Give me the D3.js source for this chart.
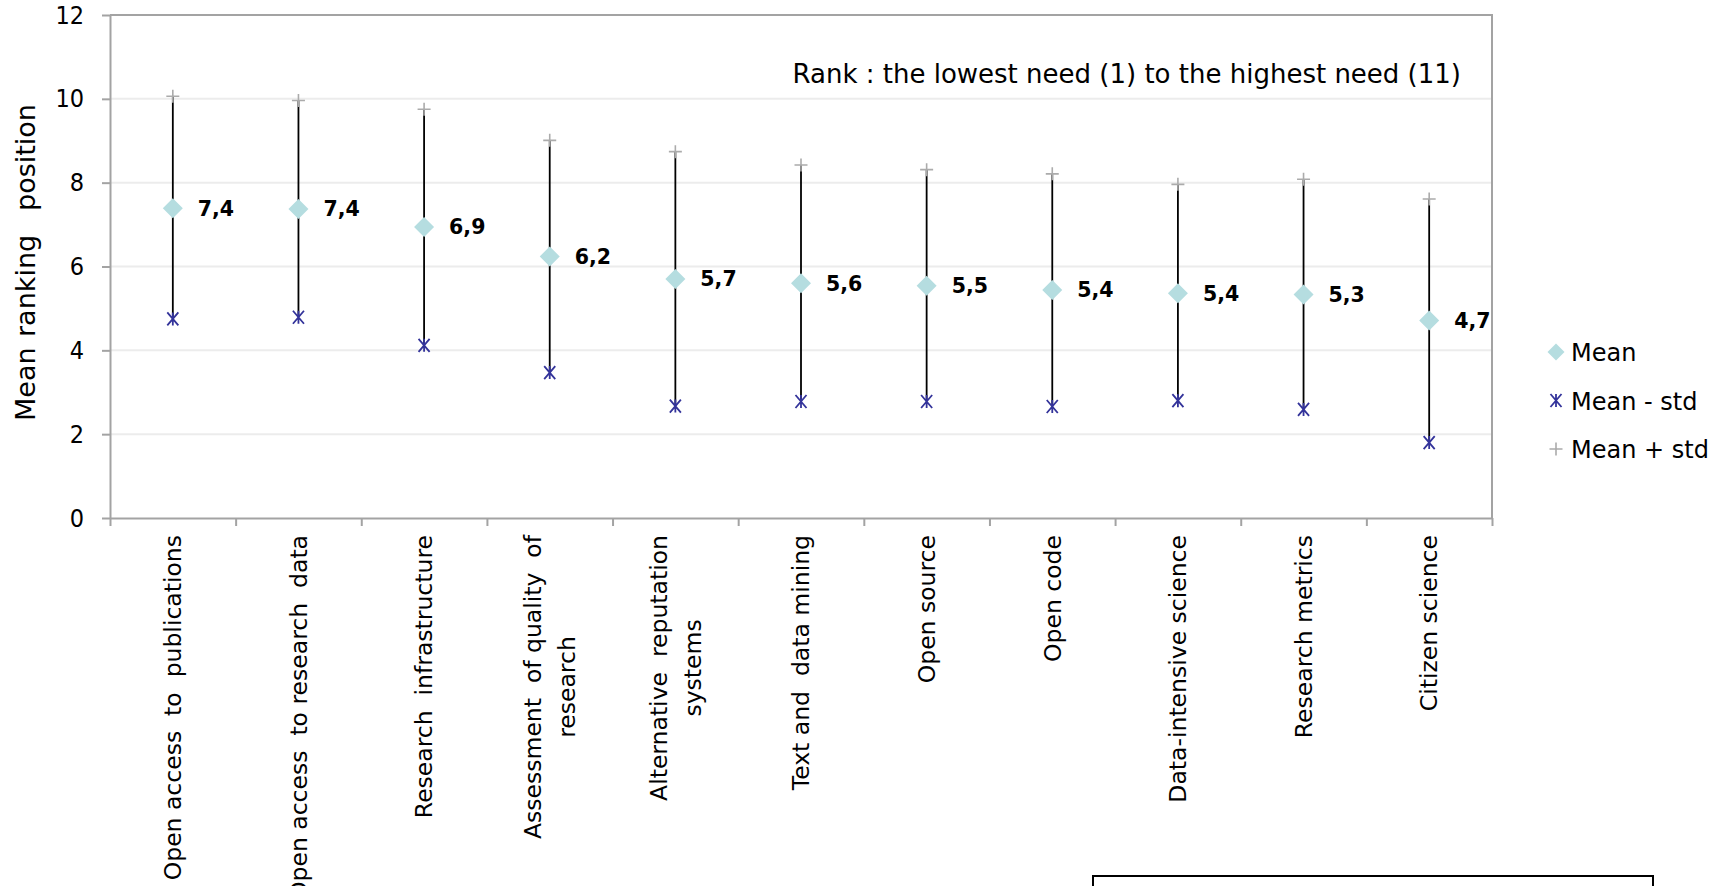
<!DOCTYPE html>
<html>
<head>
<meta charset="utf-8">
<script src="https://cdn.jsdelivr.net/npm/d3@7"></script>
<style>
  html, body { margin: 0; padding: 0; background: #fff; }
  svg { display: block; }
  text { font-family: "DejaVu Sans", Verdana, sans-serif; fill: #000; }
</style>
</head>
<body>
<svg id="chart" width="1719" height="886"></svg>
<script>
// Survey needs: mean ranking position with ±1 standard deviation
const categories = [
  "Open access  to  publications",
  "Open access  to research  data",
  "Research  infrastructure",
  "Assessment  of quality  of\nresearch",
  "Alternative  reputation\nsystems",
  "Text and  data mining",
  "Open source",
  "Open code",
  "Data-intensive science",
  "Research metrics",
  "Citizen science"
];
const meanValues     = [7.39, 7.37, 6.94, 6.24, 5.70, 5.60, 5.54, 5.44, 5.36, 5.33, 4.71];
const meanMinusStd   = [4.75, 4.79, 4.12, 3.47, 2.67, 2.78, 2.78, 2.66, 2.80, 2.59, 1.80];
const meanPlusStd    = [10.06, 9.96, 9.75, 9.01, 8.74, 8.42, 8.31, 8.21, 7.96, 8.08, 7.61];
const yTickValues    = [0, 2, 4, 6, 8, 10, 12];
const legendLabels   = ["Mean", "Mean - std", "Mean + std"];
const yAxisTitle     = ["Mean", "ranking", "position"];
const rankNote       = "Rank : the lowest need (1) to the highest need (11)";

const svg = d3.select("#chart");

const plot = { left: 110, right: 1492, top: 15, bottom: 518 };

const x = d3.scaleBand().domain(categories).range([plot.left, plot.right]).paddingInner(0).paddingOuter(0);
const xEdges = d3.scaleLinear().domain([0, categories.length]).range([plot.left, plot.right]);
const y = d3.scaleLinear().domain([0, 12]).range([plot.bottom, plot.top]);
const cx = c => x(c) + x.bandwidth() / 2;

const axisGrey = "#a3a3a3";

// horizontal gridlines
svg.append("g")
  .selectAll("line")
  .data(yTickValues.filter(v => v > 0 && v < 12))
  .join("line")
  .attr("x1", plot.left).attr("x2", plot.right)
  .attr("y1", d => y(d)).attr("y2", d => y(d))
  .attr("stroke", "#ececec").attr("stroke-width", 2);

// plot area frame (top and right)
svg.append("path")
  .attr("d", `M${plot.left},${y(12)}H${plot.right}V${plot.bottom}`)
  .attr("fill", "none").attr("stroke", axisGrey).attr("stroke-width", 2);

// y axis
const yAxis = svg.append("g")
  .attr("transform", `translate(${plot.left},0)`)
  .call(d3.axisLeft(y).tickValues(yTickValues).tickSize(8).tickSizeOuter(0).tickPadding(18));
yAxis.select(".domain").attr("stroke", axisGrey).attr("stroke-width", 2);
yAxis.selectAll(".tick line").attr("stroke", axisGrey).attr("stroke-width", 2);
yAxis.selectAll(".tick text")
  .style("font-family", "'DejaVu Sans Condensed', 'DejaVu Sans', sans-serif")
  .style("font-stretch", "condensed")
  .attr("font-size", 25).attr("fill", "#000");

// x axis with tick marks at category boundaries
const xAxis = svg.append("g")
  .attr("transform", `translate(0,${plot.bottom})`)
  .call(d3.axisBottom(xEdges).tickValues(d3.range(0, categories.length + 1)).tickSize(8).tickSizeOuter(0).tickFormat(() => ""));
xAxis.select(".domain").attr("stroke", axisGrey).attr("stroke-width", 2);
xAxis.selectAll(".tick line").attr("stroke", axisGrey).attr("stroke-width", 2);

// category labels, rotated, lines centred on the longest one
const labelTop = 535;
const lineStep = 34;
categories.forEach(c => {
  const lines = c.split("\n");
  const g = svg.append("g").attr("transform", `translate(${cx(c)},${labelTop}) rotate(-90)`);
  const texts = lines.map((ln, i) => g.append("text")
    .attr("font-size", 23.5)
    .style("white-space", "pre")
    .attr("y", (i - (lines.length - 1) / 2) * lineStep)
    .attr("dy", "0.35em")
    .text(ln));
  const longest = d3.max(texts, t => t.node().getComputedTextLength());
  texts.forEach(t => t.attr("text-anchor", "middle").attr("x", -longest / 2));
});

// high-low lines from mean - std to mean + std
svg.append("g")
  .selectAll("line")
  .data(categories)
  .join("line")
  .attr("x1", d => cx(d)).attr("x2", d => cx(d))
  .attr("y1", (d, i) => y(meanMinusStd[i]))
  .attr("y2", (d, i) => y(meanPlusStd[i]))
  .attr("stroke", "#000").attr("stroke-width", 1.8);

const plusPath  = r => `M${-r},0H${r}M0,${-r}V${r}`;
const starPath  = r => `M${-r * 0.85},${-r}L${r * 0.85},${r}M${-r * 0.85},${r}L${r * 0.85},${-r}M0,${-r}V${r}`;
const diamondPath = r => `M0,${-r}L${r},0L0,${r}L${-r},0Z`;

const meanColor = "#b5dde0";
const minusColor = "#33339a";
const plusColor = "#ababab";

// mean + std markers
svg.append("g").selectAll("path")
  .data(categories).join("path")
  .attr("transform", (d, i) => `translate(${cx(d)},${y(meanPlusStd[i])})`)
  .attr("d", plusPath(6.5))
  .attr("fill", "none").attr("stroke", plusColor).attr("stroke-width", 1.6);

// mean - std markers
svg.append("g").selectAll("path")
  .data(categories).join("path")
  .attr("transform", (d, i) => `translate(${cx(d)},${y(meanMinusStd[i])})`)
  .attr("d", starPath(6.5))
  .attr("fill", "none").attr("stroke", minusColor).attr("stroke-width", 1.8);

// mean markers
svg.append("g").selectAll("path")
  .data(categories).join("path")
  .attr("transform", (d, i) => `translate(${cx(d)},${y(meanValues[i])})`)
  .attr("d", diamondPath(10))
  .attr("fill", meanColor);

// mean value labels (decimal comma)
const fmt = v => d3.format(".1f")(v).replace(".", ",");
svg.append("g").selectAll("text")
  .data(categories).join("text")
  .attr("x", d => cx(d) + 25)
  .attr("y", (d, i) => y(meanValues[i]))
  .attr("dy", "0.36em")
  .attr("font-size", 20.5).attr("font-weight", "bold")
  .text((d, i) => fmt(meanValues[i]));

// ranking note
svg.append("text")
  .attr("x", 1461).attr("y", 83)
  .attr("text-anchor", "end")
  .attr("font-size", 26)
  .text(rankNote);

// y axis title
const yTitle = svg.append("text")
  .attr("transform", "translate(35,0) rotate(-90)")
  .attr("font-size", 27);
const titleStarts = [421, 337, 211];
yAxisTitle.forEach((w, i) => yTitle.append("tspan").attr("x", -titleStarts[i]).attr("y", 0).text(w));

// legend
const legend = svg.append("g");
const legendRows = [361, 409.5, 458];
legendLabels.forEach((lbl, i) => {
  const row = legend.append("g").attr("transform", `translate(1556,${legendRows[i]})`);
  const m = row.append("path").attr("transform", "translate(0,-9)");
  if (i === 0) m.attr("d", diamondPath(8.5)).attr("fill", meanColor);
  if (i === 1) m.attr("d", starPath(6.5)).attr("fill", "none").attr("stroke", minusColor).attr("stroke-width", 1.8);
  if (i === 2) m.attr("d", plusPath(6.5)).attr("fill", "none").attr("stroke", plusColor).attr("stroke-width", 1.6);
  row.append("text").attr("x", 15).attr("y", 0).attr("font-size", 24).text(lbl);
});

// note box at the bottom
svg.append("rect")
  .attr("x", 1093).attr("y", 876).attr("width", 560).attr("height", 40)
  .attr("fill", "#fff").attr("stroke", "#000").attr("stroke-width", 2);
</script>
</body>
</html>
